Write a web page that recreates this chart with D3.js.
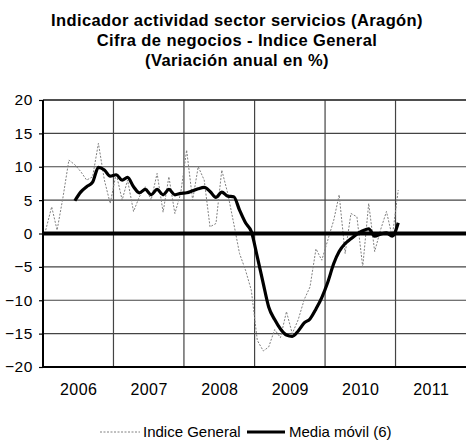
<!DOCTYPE html>
<html>
<head>
<meta charset="utf-8">
<script src="https://cdn.jsdelivr.net/npm/d3@7"></script>
<style>
  body { margin: 0; background: #fff; }
  svg { font-family: Arial, 'Liberation Sans', sans-serif; }
</style>
</head>
<body>
<div id="chart"></div>
<script>
// monthly values, Jan 2006 .. Jan 2011
var startYear = 2006;
var indiceGeneral = [
    0.5, 4, 0.5, 5.5, 11, 10.3, 9.3, 8, 8.5, 13.5, 8, 4.5,
    9, 5, 8, 3.3, 5.5, 7, 5, 9, 3.2, 8.5, 3, 6,
    12.5, 5, 10, 8, 1, 1.5, 9.5, 6, 1.5, -3, -5.5, -8.5,
    -16, -17.6, -17, -14.4, -15.6, -11.7, -15, -12.9, -9.9, -8, -2.3, -4,
    -1, 2, 5.8, -3, 3, 2.5, -5, 4.5, -2.7, 0.5, 3.3, -0.5,
    6.5
];
var mediaMovil = [
    null, null, null, null, null, 4.9, 6.2, 7, 7.7, 9.9, 9.5, 8.6,
    8.8, 8, 8.4, 7, 6.1, 6.6, 5.8, 6.6, 5.8, 6.6, 5.8, 6,
    6.1, 6.4, 6.7, 6.9, 6.3, 5.4, 6.2, 5.6, 5.5, 3.5, 1.6, 0.3,
    -3.5, -7.5, -11, -12.9, -14.3, -15.2, -15.4, -14.6, -13.4, -12.8, -11.3, -9.6,
    -7.3, -4.5, -2.7, -1.5, -0.8, -0.1, 0.4, 0.7, -0.4, -0.1, 0.1, -0.4,
    1.6
];
var yTicks = [20, 15, 10, 5, 0, -5, -10, -15, -20];
var yearLabels = [2006, 2007, 2008, 2009, 2010, 2011];
var titleLines = [
    'Indicador actividad sector servicios (Aragón)',
    'Cifra de negocios - Indice General',
    '(Variación anual en %)'
];
var legendNames = ['Indice General', 'Media móvil (6)'];

var width = 467;
var height = 441;
var plotLeft = 43;
var plotRight = 466;
var plotTop = 100;
var plotBottom = 367;

var svg = d3.select('#chart').append('svg')
    .attr('width', width)
    .attr('height', height);

var x = d3.scaleTime()
    .domain([new Date(2006, 0, 1), new Date(2012, 0, 1)])
    .range([plotLeft, plotRight]);

var y = d3.scaleLinear()
    .domain([-20, 20])
    .range([plotBottom, plotTop]);

function monthDate(i) {
    return new Date(startYear, i, 15);
}

// title
svg.selectAll('.title')
    .data(titleLines)
    .enter()
    .append('text')
    .attr('class', 'title')
    .attr('x', 237)
    .attr('y', (d, i) => 26 + i * 20)
    .attr('text-anchor', 'middle')
    .attr('font-size', 16.5)
    .attr('font-weight', 'bold')
    .attr('letter-spacing', 0.4)
    .text(d => d);

// horizontal grid
svg.append('g')
    .selectAll('line')
    .data(yTicks.filter(d => d !== 0 && d !== -20))
    .enter()
    .append('line')
    .attr('x1', plotLeft)
    .attr('x2', plotRight)
    .attr('y1', d => y(d))
    .attr('y2', d => y(d))
    .attr('stroke', '#444')
    .attr('stroke-width', 1.2);

// vertical grid at year boundaries
svg.append('g')
    .selectAll('line')
    .data(yearLabels.slice(1))
    .enter()
    .append('line')
    .attr('x1', d => x(new Date(d, 0, 1)))
    .attr('x2', d => x(new Date(d, 0, 1)))
    .attr('y1', plotTop)
    .attr('y2', plotBottom)
    .attr('stroke', '#444')
    .attr('stroke-width', 1.2);

// y axis
var yAxis = d3.axisLeft(y).tickValues(yTicks).tickSize(4).tickPadding(6);
var yG = svg.append('g')
    .attr('transform', `translate(${plotLeft},0)`)
    .call(yAxis);
yG.select('.domain').remove();
yG.selectAll('.tick line').attr('stroke', '#000').attr('stroke-width', 1.2);
yG.selectAll('.tick text')
    .attr('font-size', 15.5)
    .attr('letter-spacing', 0.6)
    .attr('font-family', 'Arial, "Liberation Sans", sans-serif')
    .attr('fill', '#000');

// x labels at mid-year
var xAxis = d3.axisBottom(x)
    .tickValues(yearLabels.map(d => new Date(d, 6, 2)))
    .tickSize(0)
    .tickPadding(17)
    .tickFormat(d3.timeFormat('%Y'));
var xG = svg.append('g')
    .attr('transform', `translate(0,${plotBottom})`)
    .call(xAxis);
xG.select('.domain').remove();
xG.selectAll('.tick text')
    .attr('font-size', 16)
    .attr('letter-spacing', 0.4)
    .attr('font-family', 'Arial, "Liberation Sans", sans-serif')
    .attr('fill', '#000');

// series
var thinLine = d3.line()
    .x(d => x(monthDate(d[0])))
    .y(d => y(d[1]));

var thickLine = d3.line()
    .defined(d => d[1] !== null)
    .x(d => x(monthDate(d[0])))
    .y(d => y(d[1]))
    .curve(d3.curveMonotoneX);

svg.append('path')
    .datum(indiceGeneral.map((v, i) => [i, v]))
    .attr('d', thinLine)
    .attr('fill', 'none')
    .attr('stroke', '#808080')
    .attr('stroke-width', 1)
    .attr('stroke-dasharray', '2,1.5');

// frame
svg.append('line')
    .attr('x1', plotLeft).attr('x2', plotRight)
    .attr('y1', plotTop).attr('y2', plotTop)
    .attr('stroke', '#333').attr('stroke-width', 1.5);
svg.append('line')
    .attr('x1', plotLeft).attr('x2', plotRight)
    .attr('y1', plotBottom).attr('y2', plotBottom)
    .attr('stroke', '#000').attr('stroke-width', 2);
svg.append('line')
    .attr('x1', plotLeft).attr('x2', plotRight)
    .attr('y1', y(0)).attr('y2', y(0))
    .attr('stroke', '#000').attr('stroke-width', 4);
svg.append('line')
    .attr('x1', plotLeft).attr('x2', plotLeft)
    .attr('y1', plotTop).attr('y2', plotBottom)
    .attr('stroke', '#000').attr('stroke-width', 2);

svg.append('path')
    .datum(mediaMovil.map((v, i) => [i, v]))
    .attr('d', thickLine)
    .attr('fill', 'none')
    .attr('stroke', '#000')
    .attr('stroke-width', 3.2)
    .attr('stroke-linejoin', 'round');

// legend
var legend = svg.append('g').attr('transform', 'translate(0,432)');
legend.append('line')
    .attr('x1', 100).attr('x2', 140)
    .attr('stroke', '#808080').attr('stroke-width', 1)
    .attr('stroke-dasharray', '2,1.5');
legend.append('text')
    .attr('x', 143).attr('y', 5)
    .attr('font-size', 15)
    .text(legendNames[0]);
legend.append('line')
    .attr('x1', 247).attr('x2', 285)
    .attr('stroke', '#000').attr('stroke-width', 3.2);
legend.append('text')
    .attr('x', 289).attr('y', 5)
    .attr('font-size', 15)
    .text(legendNames[1]);
</script>
</body>
</html>
